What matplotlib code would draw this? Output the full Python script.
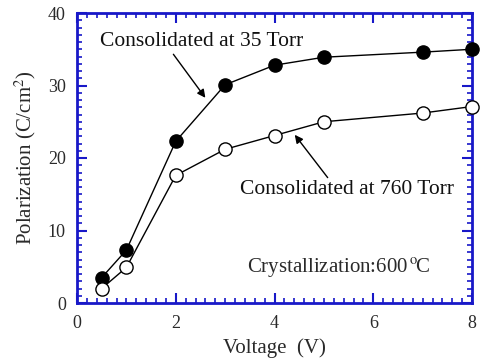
import matplotlib
matplotlib.use("Agg")
import matplotlib.pyplot as plt
from matplotlib.ticker import MultipleLocator

voltage = [0.5, 1, 2, 3, 4, 5, 7, 8]
pol_35torr = [3.5, 7.3, 22.3, 30.1, 32.8, 33.9, 34.6, 35.0]
pol_760torr = [2.0, 4.9, 17.6, 21.2, 23.1, 25.0, 26.2, 27.1]

plt.rcParams['font.family'] = ['Liberation Serif', 'DejaVu Serif']
plt.rcParams['mathtext.fontset'] = 'stix'

fig = plt.figure(figsize=(4.8, 3.62), dpi=100)
ax = fig.add_axes([77/480, 1-303/362, 395/480, 290/362])

blue = '#1818c8'
txt = '#2a2a2a'
ax.plot(voltage, pol_35torr, '-o', color='black', mfc='black', mec='black',
        ms=9.5, lw=1, clip_on=False, zorder=3)
ax.plot(voltage, pol_760torr, '-o', color='black', mfc='white', mec='black',
        ms=9.5, lw=1, clip_on=False, zorder=3)

ax.set_xlim(0, 8)
ax.set_ylim(0, 40)
ax.xaxis.set_major_locator(MultipleLocator(2))
ax.xaxis.set_minor_locator(MultipleLocator(0.2))
ax.yaxis.set_major_locator(MultipleLocator(10))
ax.yaxis.set_minor_locator(MultipleLocator(1))

for s in ax.spines.values():
    s.set_color(blue)
    s.set_linewidth(2)
ax.tick_params(which='both', direction='in', top=True, right=True,
               color=blue, labelcolor=txt, labelsize=13)
ax.tick_params(which='major', length=7, width=1.5)
ax.tick_params(axis='x', which='major', pad=9)
ax.tick_params(axis='y', which='major', pad=8)
ax.tick_params(which='minor', length=3.5, width=1.2)

ax.set_xlabel('Voltage  (V)', fontsize=15, color=txt, labelpad=4)
ax.set_ylabel('Polarization (C/cm$^2$)', fontsize=15, color=txt, labelpad=7)

ax.annotate('Consolidated at 35 Torr', xy=(2.6, 28.3), xytext=(0.47, 36),
            fontsize=15.5, va='center', ha='left', color='#111111',
            arrowprops=dict(arrowstyle='-|>', color='black', lw=1,
                            shrinkA=0, shrinkB=0, mutation_scale=12,
                            relpos=(0.35, 0.0)))
ax.annotate('Consolidated at 760 Torr', xy=(4.41, 23.2), xytext=(3.3, 15.6),
            fontsize=15.5, va='center', ha='left', color='#111111',
            arrowprops=dict(arrowstyle='-|>', color='black', lw=1,
                            shrinkA=0, shrinkB=0, mutation_scale=12,
                            relpos=(0.42, 1.0)))
ax.text(3.44, 4.8, 'Crystallization:600$\\,^{\\mathrm{o}}\\!$C', fontsize=15,
        va='center', ha='left', color=txt)

fig.savefig('out.png', dpi=100)
